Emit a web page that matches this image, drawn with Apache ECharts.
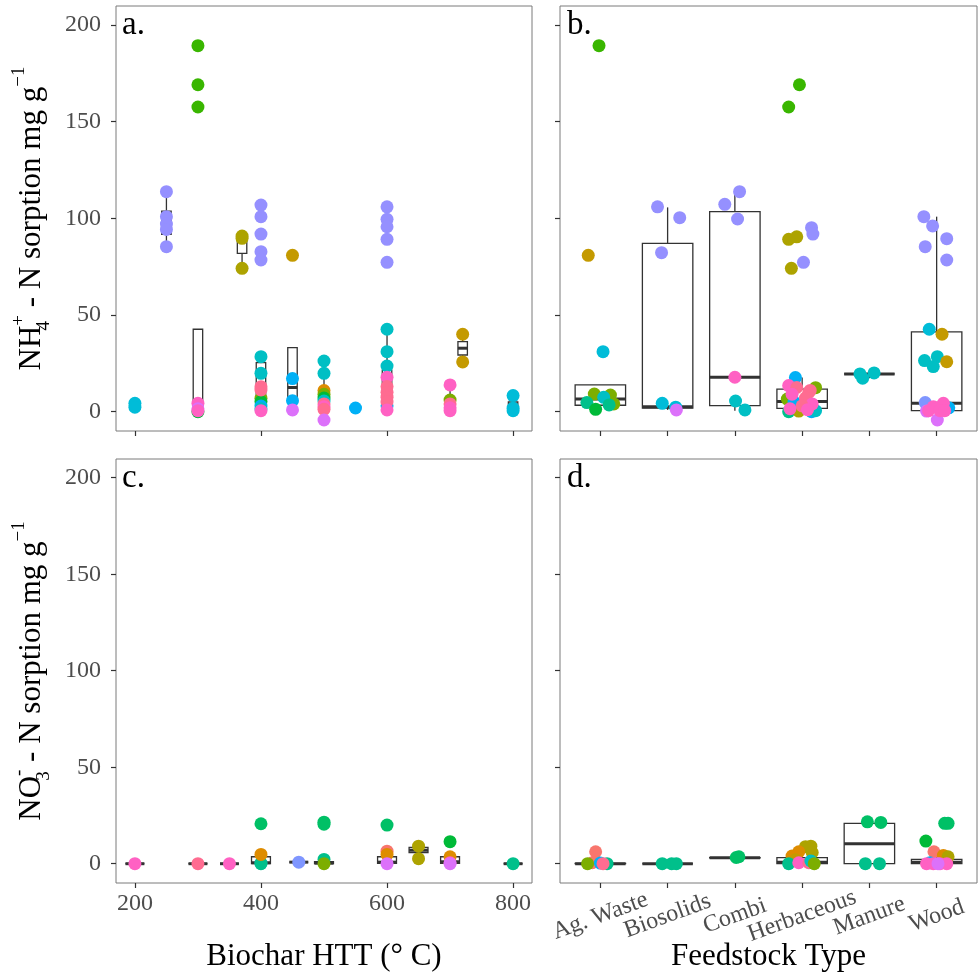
<!DOCTYPE html>
<html>
<head>
<meta charset="utf-8">
<script src="https://cdn.jsdelivr.net/npm/echarts@6/dist/echarts.min.js"></script>
<style>
  html, body { margin: 0; padding: 0; background: #ffffff; }
  #chart { width: 979px; height: 975px; }
</style>
</head>
<body>
<div id="chart"></div>
<script>
// Category names and tick values
const feedstockTypes = ['Ag. Waste', 'Biosolids', 'Combi', 'Herbaceous', 'Manure', 'Wood'];
const feedstockTicks = [1, 2, 3, 4, 5, 6];
const httTicks = [200, 400, 600, 800];
const sorptionTicks = [0, 50, 100, 150, 200];

// One colour per source study
const studyColors = [
  '#F8766D', '#DE8C00', '#C49A00', '#ADA300', '#7CAE00', '#39B600', '#00BA38',
  '#00C08B', '#00BFC4', '#00BCD8', '#00B0F6', '#7F96FF', '#9590FF', '#DC71FA',
  '#FF61C3', '#FF6C91', '#00C066'
];

// NH4+ sorption by pyrolysis temperature: [HTT, sorption, study]
const nh4ByHTT = [
  [200, 4.3, 9], [200, 2.3, 9],
  [250, 113.7, 12], [250, 100.8, 12], [250, 97.0, 12], [250, 94.2, 12], [250, 85.3, 12],
  [300, 189.2, 5], [300, 169.0, 5], [300, 157.5, 5], [300, 0, 6], [300, 4.3, 14], [300, 1.5, 13], [300, 0.5, 14],
  [370, 90.8, 3], [370, 89.6, 3], [370, 74.1, 3],
  [400, 106.8, 12], [400, 100.8, 12], [400, 91.8, 12], [400, 82.7, 12], [400, 78.4, 12],
  [400, 28.4, 8], [400, 19.8, 8], [400, 6.9, 4], [400, 5.2, 6], [400, 12.9, 15], [400, 11.2, 15],
  [400, 2.9, 10], [400, 1.5, 8], [400, 0.5, 14],
  [450, 80.8, 2], [450, 17.1, 10], [450, 5.7, 10], [450, 0.9, 13],
  [500, 26.2, 8], [500, 19.8, 8], [500, 10.9, 1], [500, 9.0, 4], [500, 7.0, 6], [500, 5.5, 8],
  [500, 4.0, 15], [500, 2.5, 14], [500, 1.2, 15], [500, -4.3, 13],
  [550, 1.9, 10],
  [600, 105.9, 12], [600, 99.4, 12], [600, 95.6, 12], [600, 89.1, 12], [600, 77.2, 12],
  [600, 42.6, 8], [600, 31.0, 8], [600, 23.6, 8], [600, 3.0, 10], [600, 17.8, 14], [600, 13.0, 15],
  [600, 10.0, 15], [600, 7.5, 15], [600, 5.0, 15], [600, 0.9, 14],
  [700, 6.0, 4], [700, 13.8, 14], [700, 4.0, 15], [700, 2.0, 14], [700, 0.5, 14],
  [720, 40.0, 2], [720, 25.7, 2],
  [800, 8.3, 9], [800, 1.8, 9], [800, 0.5, 9]
];

// NH4+ sorption by feedstock: [feedstock number, jitter, sorption, study]
const nh4ByFeedstock = [
  [1, -0.02, 189.2, 5], [1, -0.18, 80.8, 2], [1, 0.04, 31.0, 9], [1, -0.09, 9.1, 4], [1, 0.15, 8.6, 4],
  [1, 0.05, 7.4, 8], [1, -0.2, 4.7, 7], [1, 0.2, 4.0, 4], [1, 0.13, 3.5, 7], [1, -0.07, 1.2, 6],
  [2, -0.15, 105.9, 12], [2, 0.18, 100.3, 12], [2, -0.09, 82.2, 12], [2, -0.08, 4.3, 9], [2, 0.12, 2.3, 9], [2, 0.13, 0.9, 13],
  [3, 0.07, 113.7, 12], [3, -0.15, 107.2, 12], [3, 0.04, 99.6, 12], [3, 0.0, 17.8, 14], [3, 0.01, 5.5, 8], [3, 0.15, 0.9, 8],
  [4, -0.04, 169.0, 5], [4, -0.2, 157.5, 5], [4, 0.14, 95.1, 12], [4, 0.16, 91.8, 12], [4, -0.08, 90.4, 3],
  [4, -0.2, 89.1, 3], [4, -0.16, 74.1, 3], [4, 0.02, 77.2, 12],
  [4, -0.2, 0.0, 7], [4, 0.14, 0.0, 10], [4, -0.05, 0.3, 3], [4, 0.2, 0.5, 8], [4, 0.2, 12.4, 4],
  [4, -0.22, 6.5, 4], [4, -0.1, 17.6, 10], [4, -0.12, 5.0, 10], [4, -0.2, 13.5, 14], [4, -0.08, 12.5, 15],
  [4, 0.12, 11.0, 15], [4, 0.1, 10.0, 15], [4, -0.15, 9.0, 14], [4, 0.05, 7.0, 15], [4, 0.15, 4.0, 14],
  [4, 0.0, 3.0, 15], [4, -0.18, 1.5, 14], [4, 0.08, 1.0, 14],
  [5, -0.14, 19.5, 8], [5, -0.1, 17.3, 8], [5, 0.07, 20.0, 8],
  [6, -0.19, 100.8, 12], [6, -0.06, 96.0, 12], [6, 0.15, 89.4, 12], [6, -0.17, 85.3, 12], [6, 0.15, 78.4, 12],
  [6, -0.11, 42.6, 9], [6, 0.08, 40.0, 2], [6, 0.01, 28.4, 8], [6, -0.18, 26.4, 8], [6, -0.05, 23.3, 8],
  [6, 0.15, 25.8, 2], [6, -0.17, 4.7, 11], [6, 0.18, 2.0, 10], [6, -0.15, 0.3, 13], [6, 0.01, -4.3, 13],
  [6, 0.1, 4.3, 14], [6, -0.05, 2.5, 14], [6, -0.12, 0.5, 14], [6, 0.05, 0.5, 14], [6, 0.12, 0.5, 14]
];

// NO3- sorption by pyrolysis temperature: [HTT, sorption, study]
const no3ByHTT = [
  [200, 0, 14],
  [300, 0, 15],
  [350, 0, 14],
  [400, 0.3, 8], [400, 0, 7], [400, 4.8, 1], [400, 20.7, 16],
  [460, 0.8, 11],
  [500, 21.5, 16], [500, 20.5, 16], [500, 2.2, 7], [500, 0, 4],
  [600, 20.0, 16], [600, 6.5, 0], [600, 4.8, 1], [600, 0, 13],
  [650, 9.1, 3], [650, 2.6, 3],
  [700, 11.4, 6], [700, 3.6, 1], [700, 0.5, 14], [700, 0, 13],
  [800, 0, 7]
];

// NO3- sorption by feedstock: [feedstock number, jitter, sorption, study]
const no3ByFeedstock = [
  [1, -0.07, 6.2, 0], [1, -0.12, 0.5, 0], [1, 0.0, 0.3, 10], [1, 0.1, 0, 7], [1, 0.04, 0, 15], [1, -0.19, 0, 4],
  [2, -0.08, 0, 7], [2, 0.06, 0, 7], [2, 0.13, 0, 7],
  [3, 0.06, 3.6, 16], [3, 0.02, 3.2, 16],
  [4, 0.13, 9.1, 3], [4, 0.05, 8.8, 3], [4, -0.05, 6.2, 1], [4, 0.15, 5.8, 3], [4, -0.15, 4.0, 1],
  [4, -0.1, 2.0, 2], [4, -0.2, 0, 7], [4, -0.05, 0.5, 14], [4, 0.1, 0.5, 15], [4, 0.13, 1.4, 8], [4, 0.18, 0, 4],
  [5, -0.03, 21.7, 16], [5, 0.17, 21.4, 16], [5, -0.06, 0, 7], [5, 0.15, 0, 7],
  [6, -0.16, 11.7, 6], [6, 0.12, 20.9, 16], [6, 0.17, 20.9, 16], [6, -0.04, 6.2, 0], [6, 0.1, 4.3, 1],
  [6, 0.17, 3.6, 3], [6, -0.1, 0.5, 10], [6, -0.15, 0, 14], [6, -0.05, 0, 14], [6, 0.05, 0, 14],
  [6, 0.15, 0, 14], [6, 0.02, 0, 13]
];

// Box summaries: [position, lower whisker, Q1, median, Q3, upper whisker]
const nh4BoxHTT = [
  [200, 2.3, 2.8, 3.3, 3.8, 4.3],
  [250, 85.3, 91.7, 97.4, 103.7, 113.7],
  [300, 0, 0.3, 1.0, 42.6, 42.6],
  [370, 74.1, 81.8, 89.5, 90.6, 90.8],
  [400, 0, 2.0, 8.0, 25.3, 28.4],
  [450, 0.9, 4.5, 12.5, 33.1, 33.1],
  [500, -4.3, 1.2, 5.0, 9.0, 19.8],
  [550, 1.9, 1.9, 1.9, 1.9, 1.9],
  [600, 0, 1.5, 7.0, 21.5, 42.6],
  [700, 0.5, 1.5, 4.0, 6.0, 13.8],
  [720, 25.7, 29.3, 32.8, 36.2, 40.0],
  [800, 0.5, 1.0, 1.8, 5.0, 8.3]
];
const nh4BoxFeedstock = [
  [1, 0, 3.3, 6.6, 13.8, 13.8],
  [2, 0.9, 1.9, 2.6, 87.0, 105.6],
  [3, 0.5, 3.1, 17.8, 103.4, 113.7],
  [4, 0, 1.7, 5.2, 11.6, 17.6],
  [5, 17.3, 19.5, 19.5, 19.5, 20.0],
  [6, -4.3, 0.5, 4.3, 41.2, 100.8]
];
const no3BoxHTT = [
  [200, 0, 0, 0, 0, 0],
  [300, 0, 0, 0, 0, 0],
  [350, 0, 0, 0, 0, 0],
  [400, 0, 0, 0.5, 3.6, 4.8],
  [460, 0.8, 0.8, 0.8, 0.8, 0.8],
  [500, 0, 0, 0.3, 1.0, 2.2],
  [600, 0, 0.2, 0.8, 3.6, 6.5],
  [650, 2.6, 5.8, 7.0, 8.5, 9.1],
  [700, 0, 0.2, 1.0, 3.6, 3.6],
  [800, 0, 0, 0, 0, 0]
];
const no3BoxFeedstock = [
  [1, 0, 0, 0, 0.2, 0.5],
  [2, 0, 0, 0, 0, 0],
  [3, 3.0, 3.0, 3.1, 3.2, 3.3],
  [4, 0, 0.1, 0.8, 3.1, 6.5],
  [5, 0, 0, 10.3, 20.9, 21.7],
  [6, 0, 0, 0.8, 2.2, 4.3]
];

const SERIF = '"Liberation Serif", "DejaVu Serif", serif';
const INK = '#333333';
const Y_MIN = -10;
const Y_MAX = 209.7;

// Box widths in axis units
const BOX_WIDTH_HTT_NH4 = 15;
const BOX_WIDTH_HTT_NO3 = 30;
const BOX_WIDTH_FEEDSTOCK = 0.75;

function boxRenderer(width) {
  return function (params, api) {
    const x = api.value(0);
    const lo = api.value(1), q1 = api.value(2), med = api.value(3), q3 = api.value(4), hi = api.value(5);
    const tl = api.coord([x - width / 2, q3]);
    const br = api.coord([x + width / 2, q1]);
    const mL = api.coord([x - width / 2, med]);
    const mR = api.coord([x + width / 2, med]);
    const pHi = api.coord([x, hi]);
    const pQ3 = api.coord([x, q3]);
    const pQ1 = api.coord([x, q1]);
    const pLo = api.coord([x, lo]);
    const lineStyle = { stroke: INK, lineWidth: 1.3, fill: null };
    return {
      type: 'group',
      children: [
        { type: 'line', shape: { x1: pHi[0], y1: pHi[1], x2: pQ3[0], y2: pQ3[1] }, style: lineStyle },
        { type: 'line', shape: { x1: pQ1[0], y1: pQ1[1], x2: pLo[0], y2: pLo[1] }, style: lineStyle },
        { type: 'rect', shape: { x: tl[0], y: tl[1], width: br[0] - tl[0], height: br[1] - tl[1] },
          style: { fill: '#ffffff', stroke: INK, lineWidth: 1.3 } },
        { type: 'line', shape: { x1: mL[0], y1: mL[1], x2: mR[0], y2: mR[1] },
          style: { stroke: INK, lineWidth: 3 } }
      ]
    };
  };
}

function boxSeries(idx, data, width) {
  return {
    type: 'custom', xAxisIndex: idx, yAxisIndex: idx, z: 2, clip: false,
    renderItem: boxRenderer(width),
    encode: { x: 0, y: [1, 2, 3, 4, 5] },
    data: data,
    silent: true
  };
}

function pointSeries(idx, data) {
  return { type: 'scatter', xAxisIndex: idx, yAxisIndex: idx, z: 3, symbolSize: 13,
    itemStyle: { opacity: 1 }, silent: true, data: data };
}

// Slanted feedstock names under the bottom-right panel, placed at each tick
function feedstockLabelSeries(idx) {
  return {
    type: 'custom', xAxisIndex: idx, yAxisIndex: idx, clip: false, silent: true, z: 5,
    data: feedstockTicks.map(v => [v, Y_MIN]),
    encode: { x: 0, y: 1 },
    renderItem: function (params, api) {
      const p = api.coord([api.value(0), api.value(1)]);
      return {
        type: 'text', x: p[0], y: p[1] + 33, rotation: 20 * Math.PI / 180,
        style: {
          text: feedstockTypes[params.dataIndex],
          fontFamily: SERIF, fontSize: 24, fill: '#4D4D4D',
          align: 'center', verticalAlign: 'middle'
        }
      };
    }
  };
}

const tickStyle = { length: 5, lineStyle: { color: INK, width: 1.2 } };
const tickLabelStyle = { fontFamily: SERIF, fontSize: 24, color: '#4D4D4D' };

function htttAxis(gridIndex, showLabels, name) {
  return {
    type: 'value', gridIndex, min: 170, max: 830,
    splitLine: { show: false },
    axisLine: { show: false, onZero: false },
    axisTick: Object.assign({ show: true, customValues: httTicks }, tickStyle),
    axisLabel: Object.assign({ show: showLabels, customValues: httTicks, margin: 9,
      showMinLabel: true, showMaxLabel: true }, tickLabelStyle),
    name: name || '', nameLocation: 'middle', nameGap: 58,
    nameTextStyle: { fontFamily: SERIF, fontSize: 31, color: '#000000' }
  };
}

function feedstockAxis(gridIndex, name) {
  return {
    type: 'value', gridIndex, min: 0.4, max: 6.6,
    splitLine: { show: false },
    axisLine: { show: false, onZero: false },
    axisTick: Object.assign({ show: true, customValues: feedstockTicks }, tickStyle),
    axisLabel: { show: false },
    name: name || '', nameLocation: 'middle', nameGap: 58,
    nameTextStyle: { fontFamily: SERIF, fontSize: 31, color: '#000000' }
  };
}

const titleRich = {
  t: { fontFamily: SERIF, fontSize: 31, color: '#000', lineHeight: 44, verticalAlign: 'middle' },
  sub: { fontFamily: SERIF, fontSize: 19, color: '#000', lineHeight: 44, verticalAlign: 'bottom', width: 0.01 },
  sup: { fontFamily: SERIF, fontSize: 19, color: '#000', lineHeight: 44, verticalAlign: 'top' }
};

function sorptionAxis(gridIndex, showLabels, name) {
  return {
    type: 'value', gridIndex, min: Y_MIN, max: Y_MAX,
    splitLine: { show: false },
    axisLine: { show: false, onZero: false },
    axisTick: Object.assign({ show: true, customValues: sorptionTicks }, tickStyle),
    axisLabel: Object.assign({ show: showLabels, customValues: sorptionTicks, margin: 15,
      showMinLabel: true, showMaxLabel: true }, tickLabelStyle),
    name: name || '', nameLocation: 'middle', nameRotate: 90, nameGap: 62,
    nameTextStyle: { fontFamily: SERIF, fontSize: 31, color: '#000000', rich: titleRich }
  };
}

const toHTTPoints = rows => rows.map(([x, y, s]) => ({ value: [x, y], itemStyle: { color: studyColors[s] } }));
const toFeedstockPoints = rows => rows.map(([f, j, y, s]) => ({ value: [f + j, y], itemStyle: { color: studyColors[s] } }));

// Fixed panel rectangles: keep the grids exactly where they are placed
const panelBorder = {
  show: true, borderColor: '#7A7A7A', borderWidth: 1, backgroundColor: '#ffffff',
  containLabel: false, outerBoundsMode: 'none'
};

const option = {
  animation: false,
  backgroundColor: '#ffffff',
  grid: [
    Object.assign({ left: 116, top: 6, width: 416, height: 425 }, panelBorder),
    Object.assign({ left: 560, top: 6, width: 417, height: 425 }, panelBorder),
    Object.assign({ left: 116, top: 459, width: 416, height: 424 }, panelBorder),
    Object.assign({ left: 560, top: 459, width: 417, height: 424 }, panelBorder)
  ],
  xAxis: [
    htttAxis(0, false),
    feedstockAxis(1),
    htttAxis(2, true, 'Biochar HTT (° C)'),
    feedstockAxis(3, 'Feedstock Type')
  ],
  yAxis: [
    sorptionAxis(0, true, '{t|NH}{sub|4}{sup|+}{t| - N sorption mg g}{sup|−1}'),
    sorptionAxis(1, false),
    sorptionAxis(2, true, '{t|NO}{sub|3}{sup|-}{t| - N sorption mg g}{sup|−1}'),
    sorptionAxis(3, false)
  ],
  graphic: [
    { type: 'text', left: 122, top: 9, style: { text: 'a.', font: '33px ' + SERIF, fill: '#000' } },
    { type: 'text', left: 567, top: 9, style: { text: 'b.', font: '33px ' + SERIF, fill: '#000' } },
    { type: 'text', left: 122, top: 462, style: { text: 'c.', font: '33px ' + SERIF, fill: '#000' } },
    { type: 'text', left: 567, top: 462, style: { text: 'd.', font: '33px ' + SERIF, fill: '#000' } }
  ],
  series: [
    boxSeries(0, nh4BoxHTT, BOX_WIDTH_HTT_NH4),
    pointSeries(0, toHTTPoints(nh4ByHTT)),
    boxSeries(1, nh4BoxFeedstock, BOX_WIDTH_FEEDSTOCK),
    pointSeries(1, toFeedstockPoints(nh4ByFeedstock)),
    boxSeries(2, no3BoxHTT, BOX_WIDTH_HTT_NO3),
    pointSeries(2, toHTTPoints(no3ByHTT)),
    boxSeries(3, no3BoxFeedstock, BOX_WIDTH_FEEDSTOCK),
    pointSeries(3, toFeedstockPoints(no3ByFeedstock)),
    feedstockLabelSeries(3)
  ]
};

const chart = echarts.init(document.getElementById('chart'), null, { renderer: 'canvas' });
chart.setOption(option);
</script>
</body>
</html>
